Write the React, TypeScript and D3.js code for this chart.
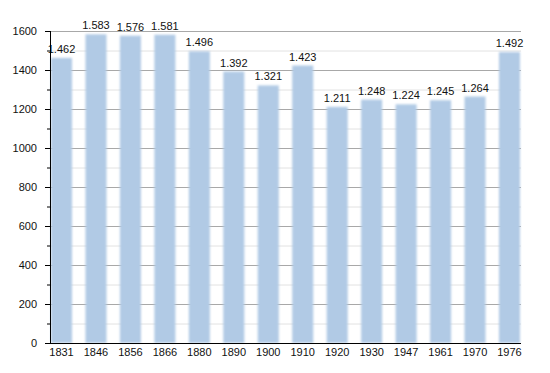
import { useEffect, useRef } from "react";
import * as d3 from "d3";

const years = ["1831", "1846", "1856", "1866", "1880", "1890", "1900", "1910", "1920", "1930", "1947", "1961", "1970", "1976"];
const population = [1462, 1583, 1576, 1581, 1496, 1392, 1321, 1423, 1211, 1248, 1224, 1245, 1264, 1492];
const majorTicks = [0, 200, 400, 600, 800, 1000, 1200, 1400, 1600];
const minorTicks = [100, 300, 500, 700, 900, 1100, 1300, 1500];

export default function App() {
    const svgRef = useRef<SVGSVGElement>(null);

    useEffect(() => {
        if (!svgRef.current) return;
        const svg = d3.select(svgRef.current);
        svg.selectAll("*").remove();

        const left = 50, right = 521, top = 31, bottom = 343;
        const font = "'Liberation Sans', Arial, sans-serif";

        const y = d3.scaleLinear().domain([0, 1600]).range([bottom, top]);
        const x = d3.scaleBand<string>()
            .domain(years)
            .range([left + 1, right - 1])
            .paddingInner(0.39)
            .paddingOuter(0);

        // soft edges on bars
        const defs = svg.append("defs");
        defs.append("filter")
            .attr("id", "soft")
            .append("feGaussianBlur")
            .attr("stdDeviation", 0.8);

        // Grid
        svg.append("g").selectAll("line")
            .data(minorTicks)
            .enter()
            .append("line")
            .attr("x1", left).attr("x2", right)
            .attr("y1", d => y(d) + 0.5).attr("y2", d => y(d) + 0.5)
            .style("stroke", "#e2e2e2")
            .style("stroke-width", 1);

        svg.append("g").selectAll("line")
            .data(majorTicks.filter(d => d > 0))
            .enter()
            .append("line")
            .attr("x1", left).attr("x2", right)
            .attr("y1", d => y(d) + 0.5).attr("y2", d => y(d) + 0.5)
            .style("stroke", "#a8a8a8")
            .style("stroke-width", 1);

        // Bars
        svg.append("g").selectAll("rect")
            .data(population)
            .enter()
            .append("rect")
            .attr("x", (_, i) => x(years[i])!)
            .attr("y", d => y(d))
            .attr("width", x.bandwidth())
            .attr("height", d => bottom - y(d))
            .style("fill", "#b1cae5")
            .style("filter", "url(#soft)");

        // Value labels
        svg.append("g").selectAll("text")
            .data(population)
            .enter()
            .append("text")
            .attr("x", (_, i) => x(years[i])! + x.bandwidth() / 2)
            .attr("y", d => y(d) - 5)
            .attr("text-anchor", "middle")
            .style("font-family", font)
            .style("font-size", "11px")
            .style("fill", "#111")
            .text(d => d3.format(",")(d).replace(",", "."));

        // Axes
        const axis = svg.append("g").style("stroke", "#000").style("stroke-width", 1);
        axis.append("line")
            .attr("x1", left + 0.5).attr("x2", left + 0.5)
            .attr("y1", top).attr("y2", bottom);
        axis.append("line")
            .attr("x1", left).attr("x2", right)
            .attr("y1", bottom + 0.5).attr("y2", bottom + 0.5);

        axis.selectAll(".major")
            .data(majorTicks)
            .enter()
            .append("line")
            .attr("x1", left - 5).attr("x2", left)
            .attr("y1", d => y(d) + 0.5).attr("y2", d => y(d) + 0.5);
        axis.selectAll(".minor")
            .data(minorTicks)
            .enter()
            .append("line")
            .attr("x1", left - 3).attr("x2", left)
            .attr("y1", d => y(d) + 0.5).attr("y2", d => y(d) + 0.5);

        // Y tick labels
        svg.append("g").selectAll("text")
            .data(majorTicks)
            .enter()
            .append("text")
            .attr("x", left - 13)
            .attr("y", d => y(d) + 4)
            .attr("text-anchor", "end")
            .style("font-family", font)
            .style("font-size", "11px")
            .style("fill", "#111")
            .text(d => d);

        // X tick labels
        svg.append("g").selectAll("text")
            .data(years)
            .enter()
            .append("text")
            .attr("x", d => x(d)! + x.bandwidth() / 2)
            .attr("y", bottom + 13)
            .attr("text-anchor", "middle")
            .style("font-family", font)
            .style("font-size", "11px")
            .style("fill", "#111")
            .text(d => d);
    }, []);

    return (
        <svg
            ref={svgRef}
            width={550}
            height={373}
            style={{ position: "absolute", left: 0, top: 0, background: "#fff" }}
        />
    );
}
